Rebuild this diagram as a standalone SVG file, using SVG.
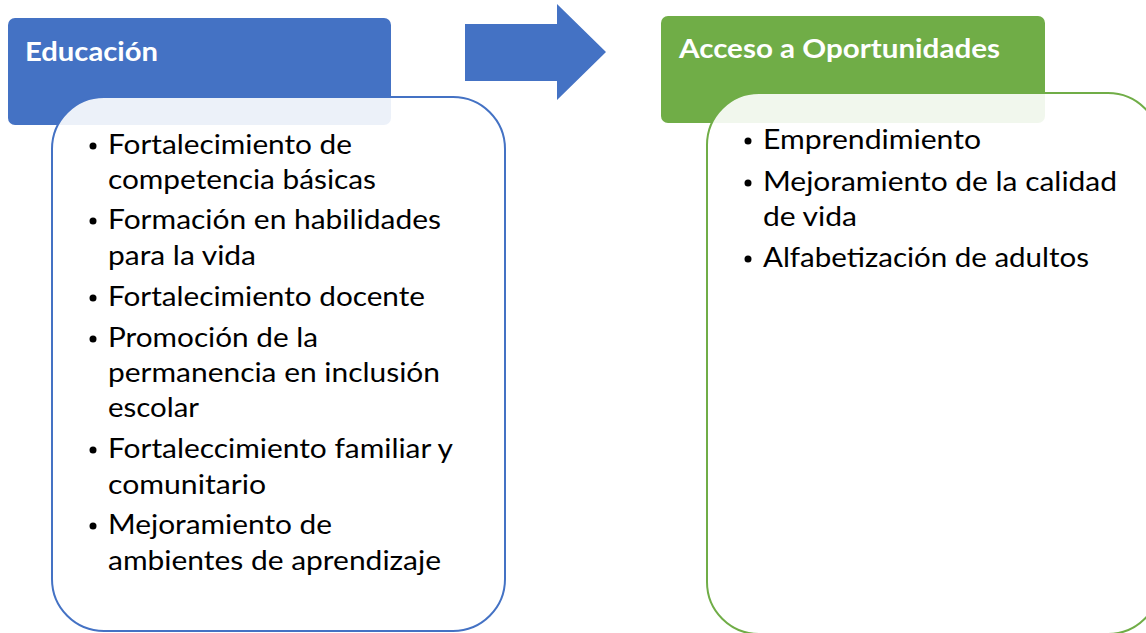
<svg xmlns="http://www.w3.org/2000/svg" width="1146" height="633" viewBox="0 0 1146 633">
<style>
.hdr{font-family:Lato,"Open Sans","Liberation Sans",sans-serif;font-weight:bold;font-size:26px;fill:#ffffff}
.itm{font-family:Lato,"Open Sans","Liberation Sans",sans-serif;font-size:26px;fill:#000000}
.blt{fill:#000000}
</style>
<rect width="1146" height="633" fill="#ffffff"/>
<g id="educacion">
<rect x="8" y="18" width="383" height="107" rx="7" fill="#4472C4"/>
<text class="hdr" x="25" y="61" textLength="133" lengthAdjust="spacingAndGlyphs">Educación</text>
<rect x="52" y="97" width="453" height="534" rx="52" fill="#ffffff" fill-opacity="0.9" stroke="#4472C4" stroke-width="2"/>
<g>
<circle class="blt" cx="93" cy="146" r="3.5"/>
<text class="itm" x="108" y="154" textLength="244" lengthAdjust="spacingAndGlyphs">Fortalecimiento de</text>
<text class="itm" x="108" y="189" textLength="268" lengthAdjust="spacingAndGlyphs">competencia básicas</text>
<circle class="blt" cx="93" cy="221" r="3.5"/>
<text class="itm" x="108" y="229" textLength="333" lengthAdjust="spacingAndGlyphs">Formación en habilidades</text>
<text class="itm" x="108" y="265" textLength="148" lengthAdjust="spacingAndGlyphs">para la vida</text>
<circle class="blt" cx="93" cy="298" r="3.5"/>
<text class="itm" x="108" y="306" textLength="317" lengthAdjust="spacingAndGlyphs">Fortalecimiento docente</text>
<circle class="blt" cx="93" cy="339" r="3.5"/>
<text class="itm" x="108" y="347" textLength="210" lengthAdjust="spacingAndGlyphs">Promoción de la</text>
<text class="itm" x="108" y="382" textLength="332" lengthAdjust="spacingAndGlyphs">permanencia en inclusión</text>
<text class="itm" x="108" y="417" textLength="91" lengthAdjust="spacingAndGlyphs">escolar</text>
<circle class="blt" cx="93" cy="450" r="3.5"/>
<text class="itm" x="108" y="458" textLength="345" lengthAdjust="spacingAndGlyphs">Fortaleccimiento familiar y</text>
<text class="itm" x="108" y="494" textLength="158" lengthAdjust="spacingAndGlyphs">comunitario</text>
<circle class="blt" cx="93" cy="526" r="3.5"/>
<text class="itm" x="108" y="534" textLength="224" lengthAdjust="spacingAndGlyphs">Mejoramiento de</text>
<text class="itm" x="108" y="570" textLength="333" lengthAdjust="spacingAndGlyphs">ambientes de aprendizaje</text>
</g>
</g>
<g id="connectors">
<polygon points="465,24 557,24 557,4 606,52 557,100 557,81 465,81" fill="#4472C4"/>
</g>
<g id="acceso">
<rect x="661" y="16" width="384" height="107" rx="7" fill="#70AD47"/>
<text class="hdr" x="679" y="58" textLength="321" lengthAdjust="spacingAndGlyphs">Acceso a Oportunidades</text>
<rect x="707" y="93" width="453" height="541" rx="52" fill="#ffffff" fill-opacity="0.9" stroke="#70AD47" stroke-width="2"/>
<circle class="blt" cx="748" cy="141" r="3.5"/>
<text class="itm" x="763" y="149" textLength="218" lengthAdjust="spacingAndGlyphs">Emprendimiento</text>
<circle class="blt" cx="748" cy="183" r="3.5"/>
<text class="itm" x="763" y="191" textLength="354" lengthAdjust="spacingAndGlyphs">Mejoramiento de la calidad</text>
<text class="itm" x="763" y="226" textLength="94" lengthAdjust="spacingAndGlyphs">de vida</text>
<circle class="blt" cx="748" cy="259" r="3.5"/>
<text class="itm" x="763" y="267" textLength="326" lengthAdjust="spacingAndGlyphs">Alfabetización de adultos</text>
</g>
</svg>
